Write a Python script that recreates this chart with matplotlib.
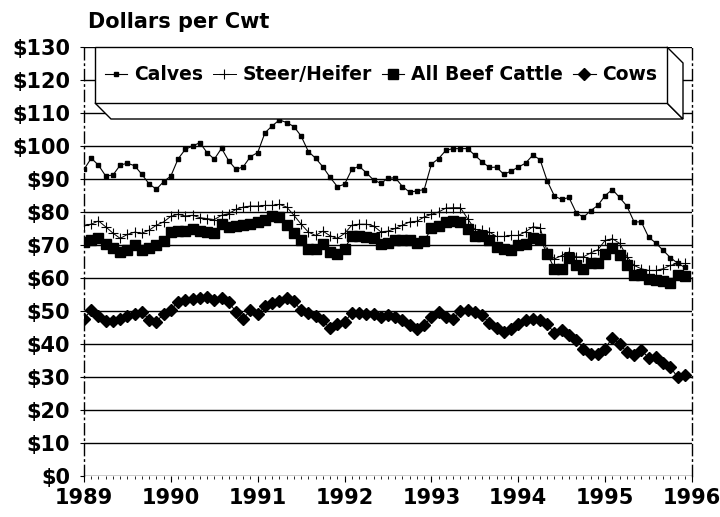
import matplotlib
matplotlib.use("Agg")
import matplotlib.pyplot as plt
from matplotlib.patches import Polygon
import numpy as np

plt.rcParams['font.family'] = ['DejaVu Sans']
plt.rcParams['font.weight'] = 'bold'

# monthly prices, Jan 1989 - Dec 1995 (dollars per cwt)
calves = [92.9, 96.3, 94.2, 90.9, 91.2, 94.2, 94.8, 94.0, 91.4, 88.5, 86.9, 89.2,
          90.9, 96.1, 99.0, 100.0, 101.0, 98.0, 96.0, 99.3, 95.5, 92.9, 93.7, 96.8,
          98.0, 104.0, 106.1, 107.9, 107.1, 105.9, 103.0, 98.3, 96.3, 93.7, 90.5, 87.7,
          88.4, 92.9, 93.9, 91.9, 89.7, 88.7, 90.2, 90.4, 87.7, 86.0, 86.4, 86.8,
          94.5, 96.2, 98.7, 99.2, 99.2, 99.2, 97.2, 95.2, 93.5, 93.6, 91.4, 92.4,
          93.6, 94.8, 97.2, 95.9, 89.4, 84.8, 83.8, 84.4, 79.8, 78.4, 80.4, 82.0,
          85.0, 86.8, 84.4, 81.8, 77.0, 77.0, 72.4, 70.6, 68.4, 66.2, 64.5, 63.2]
steer_heifer = [76.0, 76.3, 77.3, 75.5, 73.6, 72.0, 73.2, 73.9, 73.6, 74.5, 76.0, 77.0,
                78.7, 79.3, 78.8, 79.0, 78.3, 78.0, 77.7, 79.0, 79.5, 80.8, 81.5, 81.8,
                81.8, 82.0, 82.0, 82.3, 81.5, 79.0, 76.3, 73.9, 72.9, 74.2, 72.8, 72.0,
                73.5, 76.0, 76.3, 76.3, 75.8, 74.0, 74.2, 75.0, 76.0, 77.0, 77.2, 78.5,
                79.3, 80.0, 81.2, 81.3, 81.3, 78.0, 74.7, 74.5, 73.9, 72.6, 72.6, 72.9,
                72.9, 74.0, 75.5, 75.3, 68.0, 65.8, 66.8, 67.9, 66.4, 66.4, 67.6, 68.6,
                71.4, 71.9, 70.5, 66.5, 63.8, 62.8, 62.3, 62.3, 62.8, 63.8, 64.4, 64.4]
all_beef = [70.9, 71.6, 72.2, 70.4, 69.2, 67.9, 68.4, 69.9, 68.6, 69.1, 69.9, 71.2,
            73.8, 74.2, 74.2, 74.7, 74.2, 73.9, 73.5, 76.3, 75.5, 75.7, 76.0, 76.3,
            77.0, 77.5, 78.7, 78.5, 76.0, 73.6, 71.6, 68.9, 68.9, 70.4, 67.9, 67.2,
            68.9, 72.6, 72.6, 72.4, 72.2, 70.4, 70.6, 71.6, 71.6, 71.6, 70.6, 71.2,
            75.0, 75.7, 77.0, 77.3, 77.0, 74.7, 72.6, 72.6, 71.4, 69.4, 68.9, 68.6,
            69.9, 70.4, 72.2, 71.9, 67.4, 62.8, 62.8, 66.2, 63.8, 62.8, 64.4, 64.4,
            67.4, 69.1, 66.9, 63.8, 60.8, 60.8, 59.6, 59.4, 59.1, 58.5, 60.8, 60.5]
cows = [47.7, 50.2, 48.4, 47.0, 47.0, 47.7, 48.4, 49.0, 49.7, 47.4, 46.7, 49.2,
        50.4, 52.7, 53.2, 53.5, 53.8, 54.2, 53.2, 53.9, 52.7, 49.7, 47.7, 50.2,
        49.0, 51.4, 52.4, 52.9, 53.8, 52.9, 50.2, 49.4, 48.4, 47.2, 44.7, 46.0,
        46.7, 49.4, 49.4, 49.2, 49.0, 48.2, 48.7, 48.2, 47.3, 45.7, 44.4, 45.7,
        48.2, 49.7, 48.2, 47.7, 49.9, 50.4, 49.7, 48.7, 46.4, 44.8, 43.6, 44.4,
        46.0, 47.4, 47.7, 47.4, 46.0, 43.3, 44.2, 42.6, 41.3, 38.6, 37.1, 36.9,
        38.6, 41.9, 39.9, 37.6, 36.6, 38.1, 35.9, 36.1, 34.1, 33.0, 30.0, 30.5]

years = [1989, 1990, 1991, 1992, 1993, 1994, 1995, 1996]
yticks = list(range(0, 131, 10))
ylabels = [f"${v}" for v in yticks]

months = 1989 + np.arange(len(calves)) / 12.0

W, H = 720, 517
fig = plt.figure(figsize=(W / 100, H / 100), dpi=100)
ax = fig.add_axes([84 / W, 1 - 476 / H, (692 - 84) / W, (476 - 47) / H])

for v in yticks:
    ax.axhline(v, color="black", lw=1.0, zorder=1)

l1, = ax.plot(months, calves, color="black", lw=0.8, marker="s", ms=3.2, zorder=3)
l2, = ax.plot(months, steer_heifer, color="black", lw=0.7, marker="+", ms=7, mew=0.8, zorder=3)
l3, = ax.plot(months, all_beef, color="black", lw=0.8, marker="s", ms=7, zorder=3)
l4, = ax.plot(months, cows, color="black", lw=0.8, marker="D", ms=6.5, zorder=3)

ax.set_xlim(1989, 1996)
ax.set_ylim(0, 130)
ax.set_yticks(yticks)
ax.set_yticklabels(ylabels, fontsize=15, fontweight="bold")
ax.set_xticks(years)
ax.set_xticklabels([str(y) for y in years], fontsize=15, fontweight="bold")
ax.set_xticks(1989 + np.arange(84) / 12.0, minor=True)
ax.tick_params(axis="x", which="major", length=4, pad=5)
ax.tick_params(axis="x", which="minor", length=2)
ax.tick_params(axis="y", length=3, pad=7)

for s in ["top", "bottom"]:
    ax.spines[s].set_visible(False)
for s in ["left", "right"]:
    ax.spines[s].set_linestyle((0, (8, 3, 1, 3)))
    ax.spines[s].set_linewidth(1.0)


def px(x, y):
    return (x / W, 1 - y / H)


# 3-D legend box
front = [px(95, 47), px(667, 47), px(667, 103), px(95, 103)]
bottom = [px(95, 103), px(667, 103), px(683, 119), px(111, 119)]
side = [px(667, 47), px(683, 63), px(683, 119), px(667, 103)]
for poly in (bottom, side, front):
    fig.add_artist(Polygon(poly, closed=True, facecolor="white", edgecolor="black",
                           lw=1.0, transform=fig.transFigure, zorder=2))

fig.legend([l1, l2, l3, l4], ["Calves", "Steer/Heifer", "All Beef Cattle", "Cows"],
           loc="center", bbox_to_anchor=(px(381, 75)), ncol=4, frameon=False,
           prop={"size": 13.5, "weight": "bold"}, handlelength=1.2, handletextpad=0.35,
           columnspacing=0.55, borderaxespad=0)

fig.text(88 / W, 1 - 22 / H, "Dollars per Cwt", fontsize=15, fontweight="bold",
         va="center", ha="left")

fig.savefig("out.png", dpi=100)
